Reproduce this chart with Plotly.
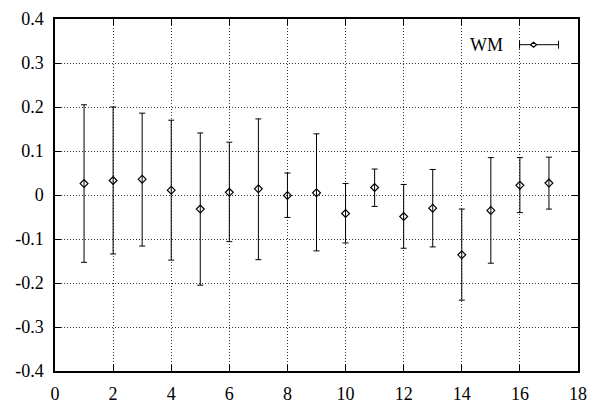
import plotly.graph_objects as go

# Per-index estimates with asymmetric uncertainty bounds
index = list(range(1, 18))
wm_value = [0.026, 0.033, 0.036, 0.011, -0.032, 0.006, 0.014, -0.001, 0.005,
            -0.042, 0.017, -0.049, -0.030, -0.136, -0.035, 0.022, 0.027]
wm_upper = [0.205, 0.200, 0.186, 0.170, 0.141, 0.120, 0.173, 0.050, 0.139,
            0.026, 0.059, 0.024, 0.058, -0.032, 0.085, 0.085, 0.086]
wm_lower = [-0.153, -0.134, -0.116, -0.148, -0.205, -0.106, -0.147, -0.051, -0.127,
            -0.109, -0.026, -0.121, -0.118, -0.239, -0.155, -0.040, -0.032]

x_ticks = list(range(0, 19, 2))
y_ticks = [-0.4, -0.3, -0.2, -0.1, 0, 0.1, 0.2, 0.3, 0.4]
y_ticktext = ["-0.4", "-0.3", "-0.2", "-0.1", "0", "0.1", "0.2", "0.3", "0.4"]

err_plus = [u - v for u, v in zip(wm_upper, wm_value)]
err_minus = [v - l for v, l in zip(wm_value, wm_lower)]

FONT = "Liberation Serif, Times New Roman, serif"

fig = go.Figure()
fig.add_trace(go.Scatter(
    x=index, y=wm_value, mode="markers", name="WM",
    marker=dict(symbol="diamond-open", size=6, color="black", line=dict(width=1.2)),
    error_y=dict(type="data", symmetric=False, array=err_plus, arrayminus=err_minus,
                 color="black", thickness=1, width=3),
    showlegend=False,
))

axis_common = dict(
    showline=True, linecolor="black", linewidth=1.5, mirror="ticks",
    ticks="inside", ticklen=6, tickcolor="black", tickwidth=1,
    showgrid=True, gridcolor="#333", griddash="1px,2px", gridwidth=1,
    zeroline=False, automargin=False,
    tickfont=dict(family=FONT, size=18, color="black"),
)

fig.update_xaxes(range=[0, 18], tickvals=x_ticks, ticklabelstandoff=6, **axis_common)
fig.update_yaxes(range=[-0.4, 0.4], tickvals=y_ticks, ticktext=y_ticktext,
                 ticklabelstandoff=6, **axis_common)

# Legend key drawn in the upper-right corner: label, bar with caps and a marker
lx, ly = 0.915, 0.927
fig.add_annotation(xref="paper", yref="paper", x=0.86, y=ly, text="WM",
                   showarrow=False, xanchor="right", yanchor="middle",
                   font=dict(family=FONT, size=18, color="black"))
key = dict(xref="paper", yref="paper", xsizemode="pixel", ysizemode="pixel",
           xanchor=lx, yanchor=ly, line=dict(color="black", width=1))
fig.add_shape(type="path", path="M -14 0 L 25 0 M -14 -4 L -14 4 M 25 -4 L 25 4", **key)
fig.add_shape(type="path", path="M -3 0 L 0 2.5 L 3 0 L 0 -2.5 Z",
              fillcolor="white", **{**key, "line": dict(color="black", width=1.2)})

fig.update_layout(
    width=593, height=408,
    margin=dict(l=55, r=15, t=19, b=37),
    paper_bgcolor="white", plot_bgcolor="white",
    font=dict(family=FONT, size=18, color="black"),
)

fig.write_html("out.html")
